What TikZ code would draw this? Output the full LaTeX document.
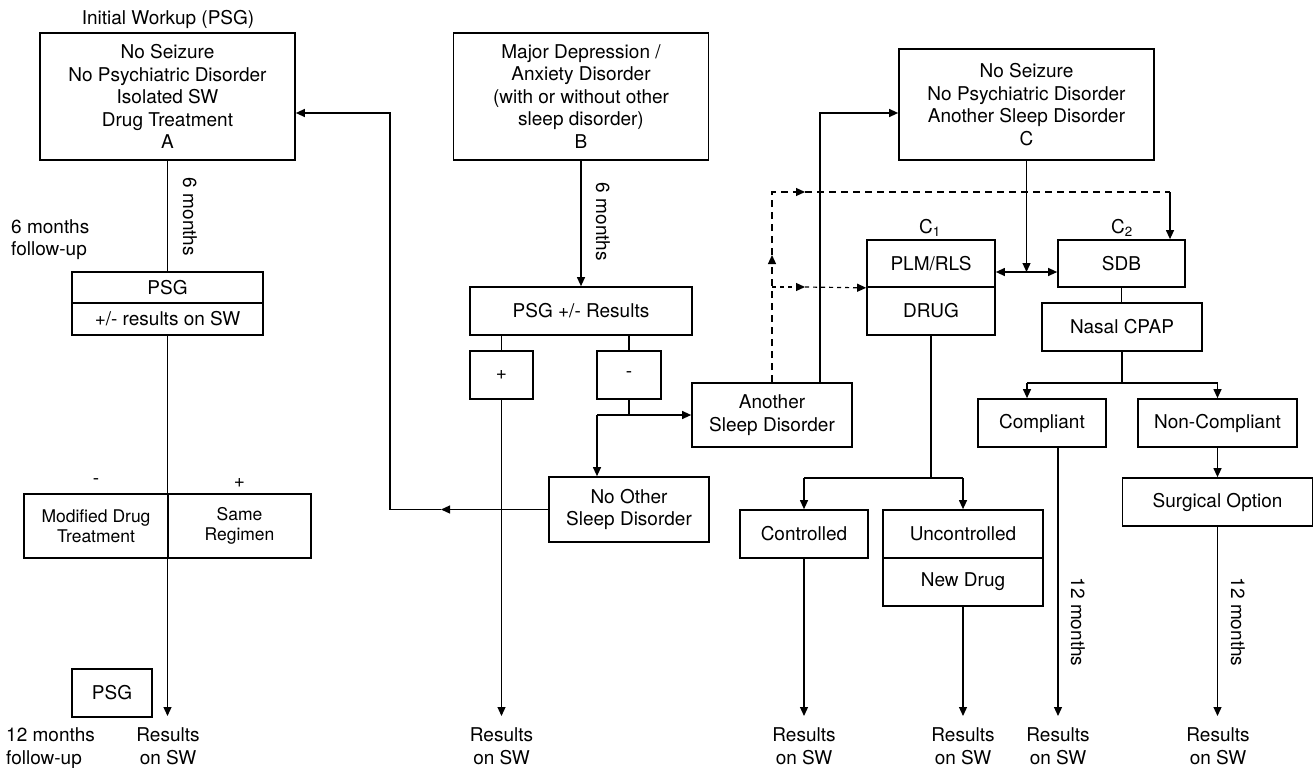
\documentclass[tikz,border=0pt]{standalone}
\usepackage{fontspec}
\setmainfont{TeX Gyre Heros}
\usetikzlibrary{arrows.meta}
\begin{document}
\begin{tikzpicture}[x=1pt,y=-1pt,
  box/.style={draw, line width=1.7pt, rectangle, inner sep=0pt, align=center, font=\fontsize{19}{22.5}\selectfont},
  smallbox/.style={box, font=\fontsize{17.5}{20}\selectfont},
  lbl/.style={inner sep=0pt, align=center, font=\fontsize{19}{22.5}\selectfont},
  rot/.style={lbl, rotate=-90},
  con/.style={line width=1.2pt},
  arr/.style={con, -{Triangle[length=9pt,width=8pt]}},
  dbl/.style={con, {Triangle[length=9pt,width=8pt]}-{Triangle[length=9pt,width=8pt]}},
  dlong/.style={con, dash pattern=on 7pt off 5pt},
  dshort/.style={con, dash pattern=on 4pt off 4pt},
  tip/.style={-{Triangle[length=9pt,width=8pt]}}
]
\useasboundingbox (0,0) rectangle (1314,768);

% ---------- column A ----------
\node[lbl] (title) at (168,19) {Initial Workup (PSG)};
\node[box, minimum width=255pt, minimum height=127pt] (A) at (167.5,96.5)
  {No Seizure\\No Psychiatric Disorder\\Isolated SW\\Drug Treatment\\A};
\node[lbl, anchor=west, align=left] (fu6) at (11,239.5) {6 months\\follow-up};
\node[rot] (m6a) at (190,217) {6 months};
\node[box, minimum width=191pt, minimum height=31.5pt] (psgA) at (167.5,287.5) {PSG};
\node[box, minimum width=191pt, minimum height=32pt] (resA) at (167.5,319) {+/- results on SW};
\node[lbl] (minA) at (96,482) {-};
\node[lbl] (plusA) at (239.5,483) {+};
\node[smallbox, minimum width=144pt, minimum height=64pt] (mod) at (96,526) {Modified Drug\\Treatment};
\node[smallbox, minimum width=143pt, minimum height=64pt] (same) at (239.5,526) {Same\\Regimen};
\node[box, minimum width=80pt, minimum height=48pt] (psg12) at (112,693) {PSG};
\node[lbl, anchor=west, align=left] (fu12) at (6,748) {12 months\\follow-up};
\node[lbl] (r1) at (168,746) {Results\\on SW};
\coordinate (t1) at (167.5,716);
\draw[con] (A.south) -- (psgA.north);
\draw[arr] (resA.south) -- (t1);

% ---------- column B ----------
\node[box, minimum width=255pt, minimum height=127pt] (B) at (581,96.5)
  {Major Depression /\\Anxiety Disorder\\(with or without other\\sleep disorder)\\B};
\node[rot] (m6b) at (603,222) {6 months};
\node[box, minimum width=222pt, minimum height=48pt] (psgB) at (581,311) {PSG +/- Results};
\node[box, minimum width=63pt, minimum height=48pt] (plus) at (501.5,375) {+};
\node[box, minimum width=64pt, minimum height=48pt] (minus) at (629,375) {-};
\node[box, minimum width=160pt, minimum height=64pt] (other) at (772,415) {Another\\Sleep Disorder};
\node[box, minimum width=160pt, minimum height=65pt] (noother) at (629,509.5) {No Other\\Sleep Disorder};
\node[lbl] (r2) at (501.5,746) {Results\\on SW};
\coordinate (t2) at (501.5,716);
\draw[arr] (B.south) -- (psgB.north);
\draw[con] (plus.north) -- (plus.north |- psgB.south);
\draw[con] (minus.north) -- (minus.north |- psgB.south);
\draw[arr] (plus.south) -- (t2);
\coordinate (mj) at (629,415);
\coordinate (mjl) at (597,415);
\draw[con] (minus.south) -- (mj) -- (mjl);
\draw[arr] (mj) -- (other.west);
\draw[arr] (mjl) -- (mjl |- noother.north);
% No other -> back to A
\coordinate (n1) at (441,509.5);
\coordinate (n2) at (390,509.5);
\coordinate (n3) at (390,113);
\draw[arr] (noother.west) -- (n1);
\draw[arr] (n1) -- (n2) -- (n3) -- (A.east |- n3);

% ---------- column C ----------
\node[box, minimum width=255pt, minimum height=111pt] (C) at (1026.5,104.5)
  {No Seizure\\No Psychiatric Disorder\\Another Sleep Disorder\\C};
\node[lbl] (c1) at (930,228) {C\textsubscript{1}};
\node[lbl] (c2) at (1122,228) {C\textsubscript{2}};
\node[box, minimum width=128pt, minimum height=47pt] (plm) at (931,263.5) {PLM/RLS};
\node[box, minimum width=128pt, minimum height=48pt] (drug) at (931,311) {DRUG};
\node[box, minimum width=127pt, minimum height=47pt] (sdb) at (1121.5,263.5) {SDB};
\node[box, minimum width=160pt, minimum height=48pt] (cpap) at (1122,327) {Nasal CPAP};
\node[box, minimum width=128pt, minimum height=48pt] (comp) at (1042,423) {Compliant};
\node[box, minimum width=159pt, minimum height=48pt] (noncomp) at (1217.5,423) {Non-Compliant};
\node[box, minimum width=190pt, minimum height=48pt] (surg) at (1217.5,502) {Surgical Option};
\node[box, minimum width=128pt, minimum height=48pt] (ctrl) at (804,534) {Controlled};
\node[box, minimum width=160pt, minimum height=48pt] (unc) at (963,534) {Uncontrolled};
\node[box, minimum width=160pt, minimum height=48pt] (newd) at (963,582) {New Drug};
\node[rot] (m12a) at (1078,622) {12 months};
\node[rot] (m12b) at (1238,622) {12 months};
\node[lbl] (r3) at (804,746) {Results\\on SW};
\node[lbl] (r4) at (963,746) {Results\\on SW};
\node[lbl] (r5) at (1058,746) {Results\\on SW};
\node[lbl] (r6) at (1218,746) {Results\\on SW};

% Another sleep disorder -> C
\coordinate (o1) at (820,113);
\draw[arr] (other.north -| o1) -- (o1) -- (C.west |- o1);
% dashed links
\coordinate (dUp) at (772,255);
\coordinate (dTop) at (772,192);
\coordinate (dm1) at (805,192);
\coordinate (dR) at (1170,192);
\coordinate (dL) at (772,287);
\coordinate (dm2) at (805,287);
\draw[dlong, tip] (other.north) -- (dUp);
\draw[dlong, tip] (dUp) -- (dTop) -- (dm1);
\draw[dlong] (dm1) -- (dR);
\draw[arr] (dR) -- (dR |- sdb.north);
\draw[dshort, tip] (dL) -- (dm2);
\draw[dshort, tip] (dm2) -- (plm.south west);
% C -> C1 / C2
\coordinate (hb) at (1026.5,272);
\draw[arr] (C.south) -- (hb);
\draw[dbl] (plm.east |- hb) -- (sdb.west |- hb);
% SDB branch
\draw[con] (sdb.south) -- (sdb.south |- cpap.north);
\coordinate (cj) at (1122,383);
\coordinate (cjl) at (1027,383);
\coordinate (cjr) at (1217.5,383);
\draw[con] (cpap.south) -- (cj);
\draw[con] (cjl) -- (cjr);
\draw[arr] (cjl) -- (cjl |- comp.north);
\draw[arr] (cjr) -- (noncomp.north);
\draw[arr] (noncomp.south) -- (surg.north);
\coordinate (t6) at (1217.5,716);
\draw[arr] (surg.south) -- (t6);
\coordinate (t5) at (1058,716);
\draw[arr] (comp.south -| t5) -- (t5);
% DRUG branch
\coordinate (dj) at (931,478);
\coordinate (djl) at (804,478);
\coordinate (djr) at (963,478);
\draw[con] (drug.south) -- (dj);
\draw[con] (djl) -- (djr);
\draw[arr] (djl) -- (ctrl.north);
\draw[arr] (djr) -- (unc.north);
\coordinate (t3) at (804,716);
\coordinate (t4) at (963,716);
\draw[arr] (ctrl.south) -- (t3);
\draw[arr] (newd.south) -- (t4);
\end{tikzpicture}
\end{document}
